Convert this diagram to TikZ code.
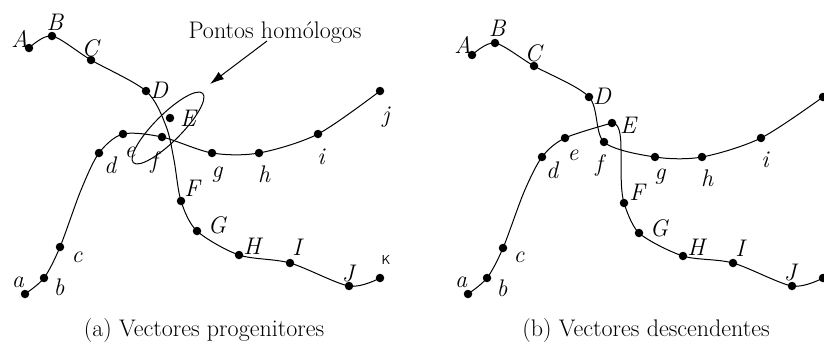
\documentclass[tikz,border=0pt]{standalone}
\usetikzlibrary{arrows.meta,shapes.geometric}
\begin{document}
\begin{tikzpicture}[x=1pt,y=-1pt,
  dot/.style={circle,fill,inner sep=0pt,minimum size=8.5pt},
  lab/.style={inner sep=0pt,font=\fontsize{24}{28}\selectfont\itshape},
  captext/.style={inner sep=0pt,font=\fontsize{24}{28}\selectfont},
  curve/.style={line width=1pt},
  ksty/.style={inner sep=0pt,font=\sffamily\fontsize{13}{15}\selectfont}]
\useasboundingbox (0,0) rectangle (824,343);
\clip (0,0) rectangle (824,343);
% ---------- left panel: points ----------
\node[dot] (A1) at (29,48) {};
\node[dot] (B1) at (52,36) {};
\node[dot] (C1) at (91,60) {};
\node[dot] (D1) at (146,91) {};
\node[dot] (E1) at (170,118) {};
\node[dot] (F1) at (181,201) {};
\node[dot] (G1) at (197,231) {};
\node[dot] (H1) at (239,255) {};
\node[dot] (I1) at (290,263) {};
\node[dot] (J1) at (349,286) {};
\node[dot] (K1) at (380,278) {};
\node[dot] (a1) at (25,294) {};
\node[dot] (b1) at (44,278) {};
\node[dot] (c1) at (60,247) {};
\node[dot] (d1) at (99,153) {};
\node[dot] (e1) at (123,134) {};
\node[dot] (f1) at (162,137) {};
\node[dot] (g1) at (212,153) {};
\node[dot] (h1) at (259,153) {};
\node[dot] (i1) at (318,134) {};
\node[dot] (j1) at (380,91) {};
\coordinate (m1) at (166,126);
\coordinate (n1) at (174,160);
\coordinate (p1) at (81,190);
% curves
\draw[curve] plot[smooth] coordinates {(A1) (B1) (C1) (D1) (m1) (n1) (F1) (G1) (H1) (I1) (J1) (K1)};
\draw[curve] plot[smooth] coordinates {(a1) (b1) (c1) (p1) (d1) (e1) (f1) (g1) (h1) (i1) (j1)};
% labels
\node[lab] at (20,39) {A};
\node[lab] at (55,22) {B};
\node[lab] at (90,48) {C};
\node[lab] at (159,90) {D};
\node[lab] at (188,118) {E};
\node[lab] at (192,188) {F};
\node[lab] at (217,225) {G};
\node[lab] at (252,246) {H};
\node[lab] at (297,247) {I};
\node[lab] at (348,274) {J};
\node[ksty] at (386,260) {K};
\node[lab] at (18,282) {a};
\node[lab] at (59,287) {b};
\node[lab] at (77,257) {c};
\node[lab] at (110,165) {d};
\node[lab] at (130,152) {e};
\node[lab] at (154,162) {f};
\node[lab] at (217,175) {g};
\node[lab] at (264,174) {h};
\node[lab] at (321,157) {i};
\node[lab] at (386,117) {j};
% ellipse and annotation
\node[draw,ellipse,line width=1pt,inner sep=0pt,minimum width=98pt,minimum height=27pt,rotate=45] (ell) at (168,128) {};
\node[captext] (pt) at (275,33) {Pontos homólogos};
\coordinate (tail) at (267,41);
\coordinate (tip) at (210,84);
\draw[line width=1pt,-{Latex[length=14pt,width=9pt]}] (tail) -- (tip);
\node[captext] (capa) at (204,331) {(a) Vectores progenitores};
% ---------- right panel: points ----------
\node[dot] (A2) at (472,55) {};
\node[dot] (B2) at (495,43) {};
\node[dot] (C2) at (534,66) {};
\node[dot] (D2) at (589,97) {};
\node[dot] (E2) at (612,123) {};
\node[dot] (F2) at (624,203) {};
\node[dot] (G2) at (639,233) {};
\node[dot] (H2) at (683,256) {};
\node[dot] (I2) at (733,263) {};
\node[dot] (J2) at (792,286) {};
\node[dot] (K2) at (823,278) {};
\node[dot] (a2) at (468,294) {};
\node[dot] (b2) at (487,278) {};
\node[dot] (c2) at (503,248) {};
\node[dot] (d2) at (542,157) {};
\node[dot] (e2) at (565,138) {};
\node[dot] (f2) at (604,142) {};
\node[dot] (g2) at (655,157) {};
\node[dot] (h2) at (702,157) {};
\node[dot] (i2) at (761,138) {};
\node[dot] (j2) at (823,97) {};
\coordinate (p2) at (524,192);
\coordinate (q2) at (621,150);
% curves
\draw[curve] plot[smooth] coordinates {(A2) (B2) (C2) (D2) (f2) (g2) (h2) (i2) (j2)};
\draw[curve] plot[smooth] coordinates {(a2) (b2) (c2) (p2) (d2) (e2) (E2)};
\draw[curve] (E2.center) .. controls (619,123) and (621,133) .. (q2) .. controls (621,180) and (621,192) .. (F2.center);
\draw[curve] plot[smooth] coordinates {(F2) (G2) (H2) (I2) (J2) (K2)};
% labels
\node[lab] at (463,45) {A};
\node[lab] at (497,28) {B};
\node[lab] at (533,53) {C};
\node[lab] at (602,96) {D};
\node[lab] at (628,125) {E};
\node[lab] at (637,192) {F};
\node[lab] at (659,228) {G};
\node[lab] at (696,247) {H};
\node[lab] at (740,248) {I};
\node[lab] at (790,273) {J};
\node[lab] at (461,282) {a};
\node[lab] at (502,288) {b};
\node[lab] at (519,257) {c};
\node[lab] at (552,170) {d};
\node[lab] at (573,155) {e};
\node[lab] at (599,165) {f};
\node[lab] at (660,177) {g};
\node[lab] at (707,178) {h};
\node[lab] at (765,160) {i};
\node[captext] (capb) at (646,331) {(b) Vectores descendentes};
\end{tikzpicture}
\end{document}
